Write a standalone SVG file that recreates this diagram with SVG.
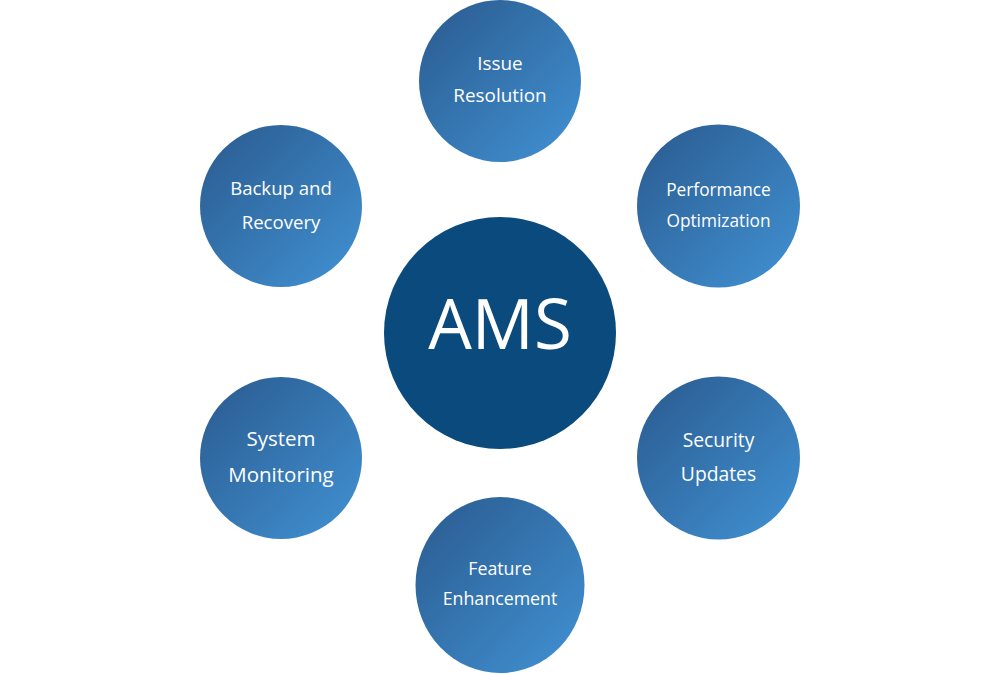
<svg xmlns="http://www.w3.org/2000/svg" width="1000" height="674" viewBox="0 0 1000 674">
<style>
.sat{fill:url(#g)}
.lbl{font-family:"Open Sans","Noto Sans",sans-serif;fill:#ffffff;text-anchor:middle;font-size:17.5px}
.hub{font-family:"Open Sans","Noto Sans",sans-serif;fill:#ffffff;text-anchor:middle;font-size:69px}
</style>
<defs>
<linearGradient id="g" x1="0" y1="0" x2="1" y2="1">
<stop offset="0" stop-color="#2a5a8e"/>
<stop offset="1" stop-color="#4192d4"/>
</linearGradient>
</defs>
<rect width="1000" height="674" fill="#ffffff"/>
<g id="connectors"></g>
<g id="center">
<circle cx="500" cy="333" r="116" fill="#0b4a7c"/>
<text class="hub" x="500" y="349">AMS</text>
</g>
<g id="issue">
<circle class="sat" cx="500" cy="81" r="81"/>
<text class="lbl" x="500" y="70" style="font-size:18.9px">Issue</text>
<text class="lbl" x="500" y="102" style="font-size:18.9px">Resolution</text>
</g>
<g id="performance">
<circle class="sat" cx="718.5" cy="206" r="81.5"/>
<text class="lbl" x="718.5" y="196" style="font-size:17.3px">Performance</text>
<text class="lbl" x="718.5" y="227" style="font-size:17.3px">Optimization</text>
</g>
<g id="security">
<circle class="sat" cx="718.5" cy="458" r="81.5"/>
<text class="lbl" x="718.5" y="447" style="font-size:19.3px">Security</text>
<text class="lbl" x="718.5" y="481" style="font-size:19.3px">Updates</text>
</g>
<g id="feature">
<ellipse class="sat" cx="500" cy="585" rx="84.5" ry="88"/>
<text class="lbl" x="500" y="575" style="font-size:17.8px">Feature</text>
<text class="lbl" x="500" y="605" style="font-size:17.8px">Enhancement</text>
</g>
<g id="monitoring">
<circle class="sat" cx="281" cy="458" r="81"/>
<text class="lbl" x="281" y="446" style="font-size:20.5px">System</text>
<text class="lbl" x="281" y="482" style="font-size:20.5px">Monitoring</text>
</g>
<g id="backup">
<circle class="sat" cx="281" cy="206" r="81"/>
<text class="lbl" x="281" y="195" style="font-size:18.6px">Backup and</text>
<text class="lbl" x="281" y="229" style="font-size:18.6px">Recovery</text>
</g>
</svg>
